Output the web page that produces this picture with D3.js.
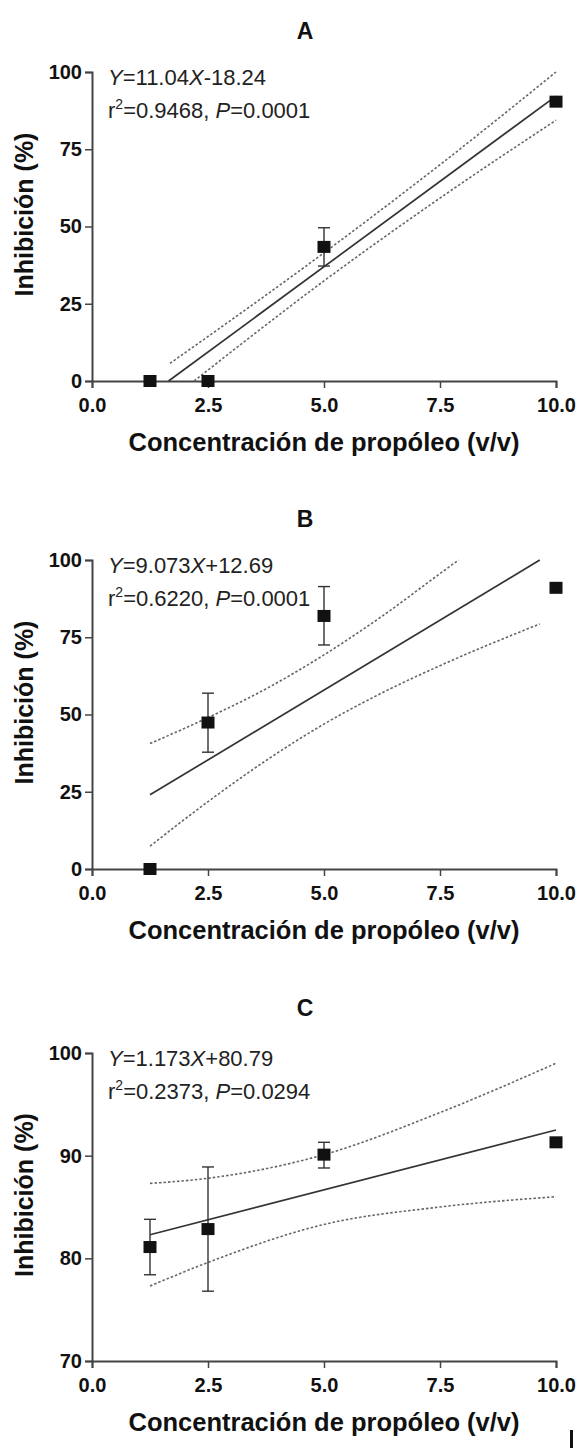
<!DOCTYPE html>
<html>
<head>
<meta charset="utf-8">
<script src="https://cdn.jsdelivr.net/npm/d3@7"></script>
<style>
body { margin: 0; background: #fff; }
svg { display: block; font-family: "Liberation Sans", Arial, sans-serif; }
</style>
</head>
<body>
<svg width="582" height="1448"></svg>
<script>
// shared x values (propolis concentration) and ticks
var conc = [1.25, 2.5, 5, 10];
var xTicks = [0, 2.5, 5, 7.5, 10];
var panelNames = ["A", "B", "C"];

// panel A
var inhibA = [0, 0, 43.4, 90.4];
var errLowA = [null, null, 37.2, null];
var errHighA = [null, null, 49.6, null];
var fitXA = [1.65, 10];
var fitYA = [0, 92.2];
var upperXA = [1.68, 5, 7.5, 10];
var upperYA = [5.7, 41.5, 70, 100];
var lowerXA = [2.2, 5, 7.5, 10];
var lowerYA = [0, 32.4, 59.2, 84.4];
var yTicksA = [0, 25, 50, 75, 100];

// panel B
var inhibB = [0, 47.4, 81.9, 91.0];
var errLowB = [null, 37.8, 72.5, null];
var errHighB = [null, 56.9, 91.4, null];
var fitXB = [1.25, 9.65];
var fitYB = [24.0, 100];
var upperXB = [1.25, 2.5, 3.75, 5, 6.25, 7.5, 7.9];
var upperYB = [40.6, 49.0, 58.3, 69.3, 81.8, 95.6, 100];
var lowerXB = [1.25, 2.5, 3.75, 5, 6.25, 7.5, 9.65];
var lowerYB = [7.4, 21.8, 35.1, 46.9, 57.0, 65.8, 79.3];
var yTicksB = [0, 25, 50, 75, 100];

// panel C
var inhibC = [81.1, 82.85, 90.1, 91.3];
var errLowC = [78.4, 76.8, 88.8, null];
var errHighC = [83.8, 88.9, 91.3, null];
var fitXC = [1.25, 10];
var fitYC = [82.3, 92.5];
var bandXC = [1.25, 2.5, 5, 7.5, 10];
var upperYC = [87.3, 87.8, 90.1, 94.2, 99.0];
var lowerYC = [77.3, 79.6, 83.3, 85.0, 86.0];
var yTicksC = [70, 80, 90, 100];

// regression text
var eqLine1 = [["11.04", "-18.24"], ["9.073", "+12.69"], ["1.173", "+80.79"]];
var eqR2 = ["0.9468", "0.6220", "0.2373"];
var eqP = ["0.0001", "0.0001", "0.0294"];

var xTitle = "Concentración de propóleo (v/v)";
var yTitle = "Inhibición (%)";

var svg = d3.select("svg");
var left = 92, right = 556;

var panels = [
    { top: 72, bottom: 381, letterGap: 33, domain: [0, 100], yTicks: yTicksA, y: inhibA, lo: errLowA, hi: errHighA,
      fitX: fitXA, fitY: fitYA, upX: upperXA, upY: upperYA, lowX: lowerXA, lowY: lowerYA },
    { top: 560, bottom: 869, letterGap: 33, domain: [0, 100], yTicks: yTicksB, y: inhibB, lo: errLowB, hi: errHighB,
      fitX: fitXB, fitY: fitYB, upX: upperXB, upY: upperYB, lowX: lowerXB, lowY: lowerYB },
    { top: 1053, bottom: 1361, letterGap: 37, domain: [70, 100], yTicks: yTicksC, y: inhibC, lo: errLowC, hi: errHighC,
      fitX: fitXC, fitY: fitYC, upX: bandXC, upY: upperYC, lowX: bandXC, lowY: lowerYC }
];

panels.forEach(function(p, i)
{
    var x = d3.scaleLinear().domain([0, 10]).range([left, right]);
    var y = d3.scaleLinear().domain(p.domain).range([p.bottom, p.top]);
    var g = svg.append("g").attr("class", "panel");

    // panel letter
    g.append("text")
        .attr("x", 305)
        .attr("y", p.top - p.letterGap)
        .attr("text-anchor", "middle")
        .attr("font-size", 23)
        .attr("font-weight", "bold")
        .attr("fill", "#111")
        .text(panelNames[i]);

    // axes
    var xAxis = g.append("g")
        .attr("transform", "translate(0," + p.bottom + ")")
        .call(d3.axisBottom(x).tickValues(xTicks).tickSize(7).tickSizeOuter(7).tickPadding(10).tickFormat(d3.format(".1f")));
    var yAxis = g.append("g")
        .attr("transform", "translate(" + left + ",0)")
        .call(d3.axisLeft(y).tickValues(p.yTicks).tickSize(7).tickSizeOuter(7).tickPadding(3));
    [xAxis, yAxis].forEach(function(a)
    {
        a.select(".domain").attr("stroke", "#444").attr("stroke-width", 2);
        a.selectAll(".tick line").attr("stroke", "#444").attr("stroke-width", 1.5);
        a.selectAll(".tick text")
            .attr("fill", "#111")
            .attr("font-size", 20)
            .attr("font-weight", "bold")
            .attr("font-family", "Liberation Sans, Arial, sans-serif");
    });

    // axis titles
    g.append("text")
        .attr("x", (left + right) / 2)
        .attr("y", p.bottom + 70)
        .attr("text-anchor", "middle")
        .attr("font-size", 25.5)
        .attr("font-weight", "bold")
        .attr("fill", "#111")
        .text(xTitle);
    g.append("text")
        .attr("transform", "translate(33," + ((p.top + p.bottom) / 2 - 12) + ") rotate(-90)")
        .attr("text-anchor", "middle")
        .attr("font-size", 25)
        .attr("font-weight", "bold")
        .attr("fill", "#111")
        .text(yTitle);

    // confidence bands and fitted line
    var line = d3.line()
        .x(function(d) { return x(d[0]); })
        .y(function(d) { return y(d[1]); })
        .curve(d3.curveMonotoneX);
    g.append("path")
        .datum(d3.zip(p.upX, p.upY))
        .attr("d", line)
        .attr("fill", "none")
        .attr("stroke", "#666")
        .attr("stroke-width", 1.6)
        .attr("stroke-dasharray", "2.5,2");
    g.append("path")
        .datum(d3.zip(p.lowX, p.lowY))
        .attr("d", line)
        .attr("fill", "none")
        .attr("stroke", "#666")
        .attr("stroke-width", 1.6)
        .attr("stroke-dasharray", "2.5,2");
    g.append("path")
        .datum(d3.zip(p.fitX, p.fitY))
        .attr("d", line)
        .attr("fill", "none")
        .attr("stroke", "#333")
        .attr("stroke-width", 1.7);

    // error bars
    var pts = conc.map(function(c, k)
    {
        return { x: c, y: p.y[k], lo: p.lo[k], hi: p.hi[k] };
    });
    var bars = g.selectAll(".err")
        .data(pts.filter(function(d) { return d.lo !== null; }))
        .enter().append("g")
        .attr("class", "err")
        .attr("stroke", "#333")
        .attr("stroke-width", 1.4);
    bars.append("line")
        .attr("x1", function(d) { return x(d.x); })
        .attr("x2", function(d) { return x(d.x); })
        .attr("y1", function(d) { return y(d.lo); })
        .attr("y2", function(d) { return y(d.hi); });
    bars.append("line")
        .attr("x1", function(d) { return x(d.x) - 6; })
        .attr("x2", function(d) { return x(d.x) + 6; })
        .attr("y1", function(d) { return y(d.lo); })
        .attr("y2", function(d) { return y(d.lo); });
    bars.append("line")
        .attr("x1", function(d) { return x(d.x) - 6; })
        .attr("x2", function(d) { return x(d.x) + 6; })
        .attr("y1", function(d) { return y(d.hi); })
        .attr("y2", function(d) { return y(d.hi); });

    // square markers
    g.selectAll(".pt")
        .data(pts)
        .enter().append("rect")
        .attr("class", "pt")
        .attr("x", function(d) { return x(d.x) - 6.5; })
        .attr("y", function(d) { return y(d.y) - 6; })
        .attr("width", 13)
        .attr("height", 12)
        .attr("fill", "#111");

    // regression equation
    var eq = g.append("text")
        .attr("x", left + 16)
        .attr("y", p.top + 13)
        .attr("font-size", 22)
        .attr("fill", "#222");
    eq.append("tspan").attr("font-style", "italic").text("Y");
    eq.append("tspan").text("=" + eqLine1[i][0]);
    eq.append("tspan").attr("font-style", "italic").text("X");
    eq.append("tspan").text(eqLine1[i][1]);
    var eq2 = g.append("text")
        .attr("x", left + 16)
        .attr("y", p.top + 46)
        .attr("font-size", 22)
        .attr("fill", "#222");
    eq2.append("tspan").text("r");
    eq2.append("tspan").attr("font-size", 14).attr("dy", -9).text("2");
    eq2.append("tspan").attr("dy", 9).text("=" + eqR2[i] + ", ");
    eq2.append("tspan").attr("font-style", "italic").text("P");
    eq2.append("tspan").text("=" + eqP[i]);
});

// cropped fragment at the lower right edge
svg.append("rect")
    .attr("x", 570)
    .attr("y", 1430)
    .attr("width", 3)
    .attr("height", 18)
    .attr("fill", "#111");
</script>
</body>
</html>
